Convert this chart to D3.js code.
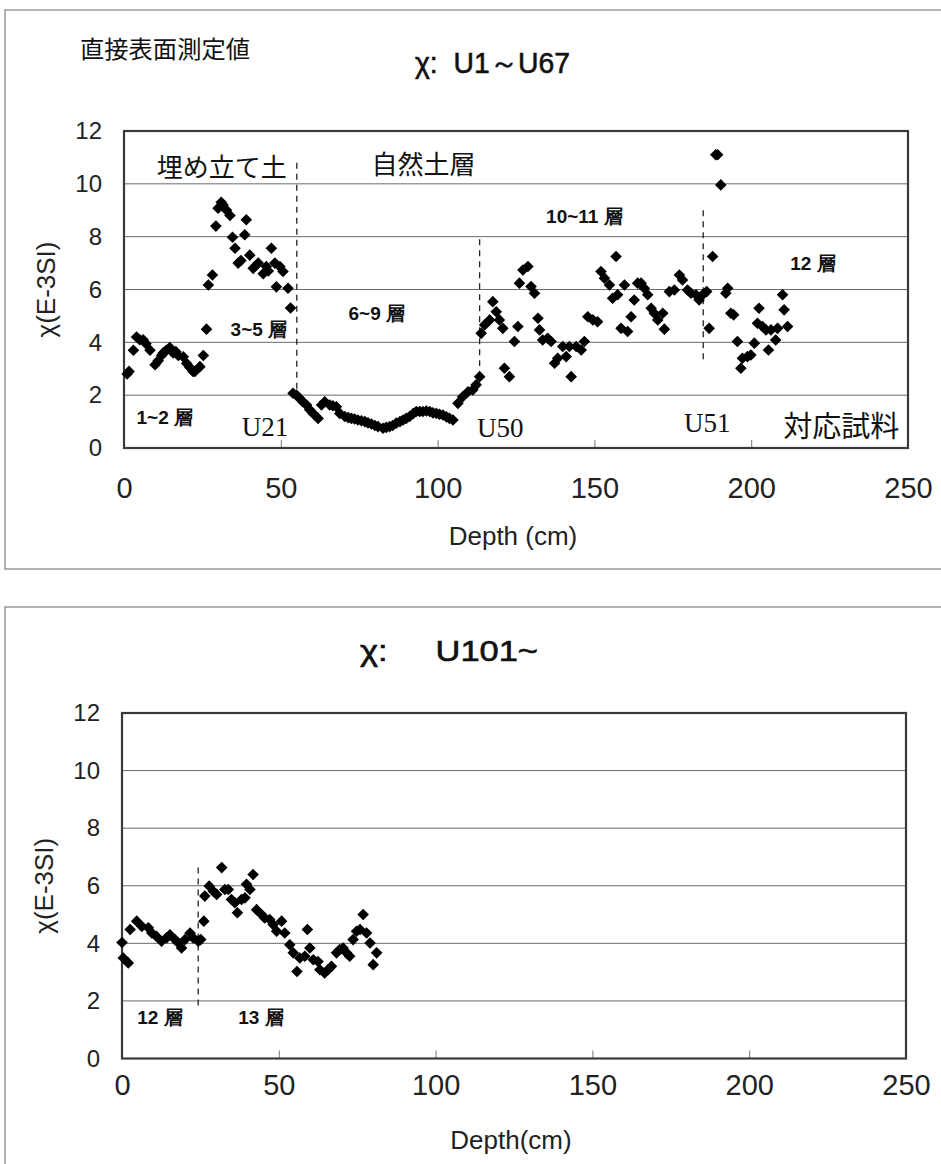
<!DOCTYPE html>
<html>
<head>
<meta charset="utf-8">
<script src="https://cdn.jsdelivr.net/npm/d3@7"></script>
<style>
  html, body { margin: 0; padding: 0; background: #fff; }
  svg { display: block; }
</style>
</head>
<body>
<svg id="fig" width="941" height="1164"></svg>
<script>
// ---- data: magnetic susceptibility χ (E-3 SI) against depth (cm) ----
const depthU1 = [1.0,1.6,3.0,4.0,5.0,6.1,7.0,8.3,9.9,10.9,12.0,12.5,13.5,14.6,15.7,16.5,17.3,18.9,20.0,21.0,22.0,22.6,24.2,25.3,26.3,26.9,28.2,29.3,30.0,31.0,31.6,32.7,33.8,34.6,35.4,36.4,37.3,38.5,39.0,40.1,41.2,42.0,42.8,44.4,45.4,46.0,47.0,48.1,48.6,49.7,50.7,52.3,53.1,
  53.9,55.0,56.0,57.0,58.2,59.2,60.3,61.9,63.0,64.0,65.6,66.6,67.7,68.8,70.4,71.5,72.5,73.5,74.6,75.7,76.8,77.8,78.9,80.0,81.0,82.6,83.6,84.7,85.7,86.8,88.0,89.0,90.0,91.1,92.2,93.2,94.3,95.3,96.4,97.5,98.5,99.6,100.6,101.7,102.8,103.8,104.9,106.5,108.0,109.7,111.2,112.3,113.4,
  113.9,115.0,116.6,117.6,118.7,119.7,120.8,121.3,122.9,124.5,125.6,126.1,127.2,128.8,129.8,130.9,132.0,132.5,133.5,135.1,136.2,137.3,138.3,139.9,141.0,142.0,142.6,144.2,145.8,146.8,147.9,149.5,151.0,152.1,153.2,154.8,155.8,156.9,157.4,158.5,159.6,160.6,161.7,162.7,163.8,164.9,165.9,167.0,168.1,169.1,170.2,171.8,172.3,173.9,175.5,177.1,178.1,179.7,180.8,182.4,183.4,184.5,185.8,
  186.6,187.7,188.7,189.3,190.3,191.9,192.5,193.5,194.4,195.6,196.7,197.2,198.8,199.9,201.0,202.0,202.5,203.6,204.7,205.5,206.3,207.8,208.4,210.0,210.5,211.6];
const chiU1 = [2.8,2.9,3.7,4.2,4.1,4.1,3.95,3.7,3.15,3.3,3.5,3.6,3.7,3.8,3.6,3.65,3.5,3.45,3.2,3.05,2.9,2.9,3.08,3.5,4.5,6.17,6.55,8.4,9.08,9.3,9.2,9.0,8.8,7.98,7.56,7.0,7.1,8.07,8.64,7.3,6.8,6.9,7.0,6.6,6.87,6.7,7.56,7.0,6.1,6.87,6.68,6.05,5.3,
  2.07,2.0,1.88,1.75,1.63,1.45,1.31,1.12,1.63,1.75,1.63,1.6,1.56,1.31,1.19,1.15,1.12,1.1,1.06,1.03,1.0,0.95,0.91,0.85,0.81,0.75,0.78,0.81,0.85,0.94,1.0,1.06,1.12,1.19,1.3,1.38,1.38,1.38,1.4,1.38,1.33,1.31,1.28,1.25,1.18,1.12,1.06,1.69,1.94,2.13,2.2,2.39,2.7,
  4.34,4.66,4.85,5.54,5.16,4.85,4.53,3.02,2.7,4.03,4.6,6.24,6.74,6.87,6.11,5.86,4.91,4.47,4.09,4.15,4.03,3.21,3.4,3.84,3.46,3.84,2.7,3.84,3.71,4.03,4.97,4.85,4.78,6.68,6.43,6.17,5.67,7.25,5.8,4.53,6.17,4.41,4.97,5.6,6.24,6.24,6.05,5.8,5.29,5.1,4.85,5.1,4.5,5.92,5.98,6.55,6.36,5.98,5.86,5.8,5.6,5.8,5.92,
  4.53,7.25,11.1,11.1,9.96,5.86,6.05,5.1,5.04,4.03,3.02,3.4,3.46,3.52,3.97,4.72,5.29,4.6,4.47,3.71,4.47,4.09,4.53,5.8,5.23,4.6];

const depthU101 = [0.0,0.4,2.0,2.6,4.7,6.3,8.4,9.5,11.0,12.6,14.2,15.3,16.9,18.0,19.0,20.1,21.7,22.7,24.3,25.1,26.1,26.4,27.8,29.1,30.2,31.8,32.8,33.9,34.9,36.0,36.8,38.1,39.2,39.7,40.8,41.8,42.9,44.5,45.5,47.1,48.2,49.3,50.9,51.9,53.5,54.6,55.8,56.7,58.3,59.1,59.9,61.0,62.5,63.1,64.6,65.7,66.8,68.4,69.4,70.5,71.6,72.6,73.7,74.8,75.9,76.9,78.0,79.1,80.1,81.2];
const chiU101 = [4.03,3.49,3.32,4.48,4.77,4.59,4.54,4.36,4.24,4.07,4.19,4.3,4.13,4.01,3.84,4.13,4.36,4.19,4.07,4.13,4.77,5.64,5.99,5.81,5.7,6.63,5.87,5.87,5.52,5.41,5.06,5.52,5.58,6.05,5.87,6.39,5.17,5.0,4.88,4.83,4.65,4.42,4.77,4.36,3.95,3.67,3.02,3.49,3.55,4.48,3.84,3.43,3.37,3.08,2.97,3.08,3.2,3.67,3.78,3.84,3.67,3.55,4.13,4.42,4.48,5.0,4.36,4.01,3.26,3.67];

// axis tick values
const depthTicks = [0, 50, 100, 150, 200, 250];
const chiTicks = [0, 2, 4, 6, 8, 10, 12];

// sample / layer boundaries: depth and the χ span of the dashed marker
const boundaryDepthU1 = [55.1, 113.4, 184.7];
const boundaryTopU1 = [10.8, 7.9, 9.0];
const boundaryBottomU1 = [2.1, 3.1, 3.2];
const boundaryDepthU101 = [24.3];
const boundaryTopU101 = [6.63];
const boundaryBottomU101 = [1.8];

// annotation text placed at (depth, χ)
const notesU1 = [
  {t: "埋め立て土", d: 31.2, v: 10.7, k: "big"},
  {t: "自然土層", d: 95.5, v: 10.8, k: "big"},
  {t: "3~5 層", d: 43.0, v: 4.47, k: "layer"},
  {t: "1~2 層", d: 13.0, v: 1.17, k: "layer"},
  {t: "6~9 層", d: 80.6, v: 5.1, k: "layer"},
  {t: "10~11 層", d: 146.8, v: 8.75, k: "layer"},
  {t: "12 層", d: 219.7, v: 7.0, k: "layer"},
  {t: "U21", d: 45.0, v: 0.8, k: "sample"},
  {t: "U50", d: 120.0, v: 0.76, k: "sample"},
  {t: "U51", d: 186.0, v: 0.95, k: "sample"},
  {t: "対応試料", d: 228.7, v: 0.9, k: "note"}
];
const notesU101 = [
  {t: "12 層", d: 12.1, v: 1.41, k: "layer"},
  {t: "13 層", d: 44.3, v: 1.41, k: "layer"}
];

// ---- drawing ----
const svg = d3.select("#fig");
const SANS = "'Liberation Sans', Arial, sans-serif";
const CJK = "'Noto Sans CJK JP', sans-serif";
const SERIF = "'Liberation Serif', 'Times New Roman', serif";

// outer frames around each chart
svg.append("rect").attr("x", 5).attr("y", 10).attr("width", 960).attr("height", 559)
  .attr("fill", "none").attr("stroke", "#9a9a9a").attr("stroke-width", 1.5);
svg.append("rect").attr("x", 5).attr("y", 607).attr("width", 960).attr("height", 620)
  .attr("fill", "none").attr("stroke", "#9a9a9a").attr("stroke-width", 1.5);

svg.append("text").attr("x", 80).attr("y", 58).attr("font-family", CJK)
  .attr("font-size", 24).attr("textLength", 170).attr("lengthAdjust", "spacingAndGlyphs")
  .attr("fill", "#111").text("直接表面測定値");

function diamond(r) {
  return `M0,${-r}L${r},0L0,${r}L${-r},0Z`;
}

function panel(cfg) {
  const x = d3.scaleLinear().domain([0, 250]).range([cfg.left, cfg.right]);
  const y = d3.scaleLinear().domain([0, 12]).range([cfg.bottom, cfg.top]);
  const g = svg.append("g");

  // gridlines
  g.append("g").selectAll("line").data(chiTicks.filter(v => v > 0 && v < 12)).join("line")
    .attr("x1", cfg.left).attr("x2", cfg.right)
    .attr("y1", d => y(d)).attr("y2", d => y(d))
    .attr("stroke", "#6a6a6a").attr("stroke-width", 1);

  // x axis: inward ticks, labels below
  const xAxis = g.append("g").attr("transform", `translate(0,${cfg.bottom})`)
    .call(d3.axisBottom(x).tickValues(depthTicks).tickSize(-8).tickPadding(cfg.xpad).tickFormat(d3.format("d")));
  xAxis.select(".domain").remove();
  xAxis.selectAll(".tick line").attr("stroke", "#555").attr("stroke-width", 0.8);
  xAxis.selectAll(".tick text").attr("font-family", SANS).attr("font-size", 29)
    .attr("fill", "#222").attr("dy", "0.71em");

  // y axis labels
  const yAxis = g.append("g").attr("transform", `translate(${cfg.left},0)`)
    .call(d3.axisLeft(y).tickValues(chiTicks).tickSize(0).tickPadding(22).tickFormat(d3.format("d")));
  yAxis.select(".domain").remove();
  yAxis.selectAll(".tick text").attr("font-family", SANS).attr("font-size", 24).attr("fill", "#222");

  // plot area border
  g.append("rect").attr("x", cfg.left).attr("y", cfg.top)
    .attr("width", cfg.right - cfg.left).attr("height", cfg.bottom - cfg.top)
    .attr("fill", "none").attr("stroke", "#3a3a3a").attr("stroke-width", 2.2);

  // dashed boundaries
  g.append("g").selectAll("line").data(cfg.bDepth).join("line")
    .attr("x1", d => x(d)).attr("x2", d => x(d))
    .attr("y1", (d, i) => y(cfg.bTop[i])).attr("y2", (d, i) => y(cfg.bBottom[i]))
    .attr("stroke", "#222").attr("stroke-width", 1.3).attr("stroke-dasharray", "6,5");

  // points
  g.append("g").selectAll("path").data(cfg.depth).join("path")
    .attr("d", diamond(5.8))
    .attr("transform", (d, i) => `translate(${x(d)},${y(cfg.chi[i])})`)
    .attr("fill", "#000");

  // annotations
  const style = {
    big: {f: CJK, s: 26, w: 400},
    note: {f: CJK, s: 29, w: 400},
    layer: {f: SANS, s: 19, w: 700},
    sample: {f: SERIF, s: 27, w: 400}
  };
  g.append("g").selectAll("text").data(cfg.notes).join("text")
    .attr("x", d => x(d.d)).attr("y", d => y(d.v))
    .attr("text-anchor", "middle").attr("dominant-baseline", "central")
    .attr("font-family", d => style[d.k].f).attr("font-size", d => style[d.k].s)
    .attr("font-weight", d => style[d.k].w).attr("fill", "#111")
    .text(d => d.t);

  // titles (condensed, medium weight)
  svg.append("text").attr("x", cfg.titleX).attr("y", cfg.titleY).attr("font-family", SANS)
    .attr("font-size", 29).attr("fill", "#111").attr("stroke", "#111").attr("stroke-width", 0.6)
    .attr("textLength", cfg.titleW).attr("lengthAdjust", "spacingAndGlyphs")
    .attr("xml:space", "preserve").text(cfg.title);
  svg.append("text").attr("x", (cfg.left + cfg.right) / 2 - 3).attr("y", cfg.bottom + cfg.labelDy)
    .attr("text-anchor", "middle").attr("font-family", SANS).attr("font-size", 26)
    .attr("fill", "#222").text(cfg.xLabel);
  svg.append("text")
    .attr("transform", `translate(${cfg.left - 78},${(cfg.top + cfg.bottom) / 2}) rotate(-90)`)
    .attr("text-anchor", "middle").attr("dominant-baseline", "central")
    .attr("font-family", SANS).attr("font-size", 26).attr("fill", "#222").text("χ(E-3SI)");
}

panel({
  left: 124, right: 908, top: 131, bottom: 448, xpad: 29, labelDy: 97,
  depth: depthU1, chi: chiU1,
  bDepth: boundaryDepthU1, bTop: boundaryTopU1, bBottom: boundaryBottomU1,
  notes: notesU1, title: "χ:  U1～U67", titleX: 415, titleY: 73, titleW: 155, xLabel: "Depth (cm)"
});
panel({
  left: 122, right: 906, top: 713, bottom: 1058.5, xpad: 16, labelDy: 90,
  depth: depthU101, chi: chiU101,
  bDepth: boundaryDepthU101, bTop: boundaryTopU101, bBottom: boundaryBottomU101,
  notes: notesU101, title: "χ:     U101~", titleX: 360, titleY: 661, titleW: 178, xLabel: "Depth(cm)"
});
</script>
</body>
</html>
